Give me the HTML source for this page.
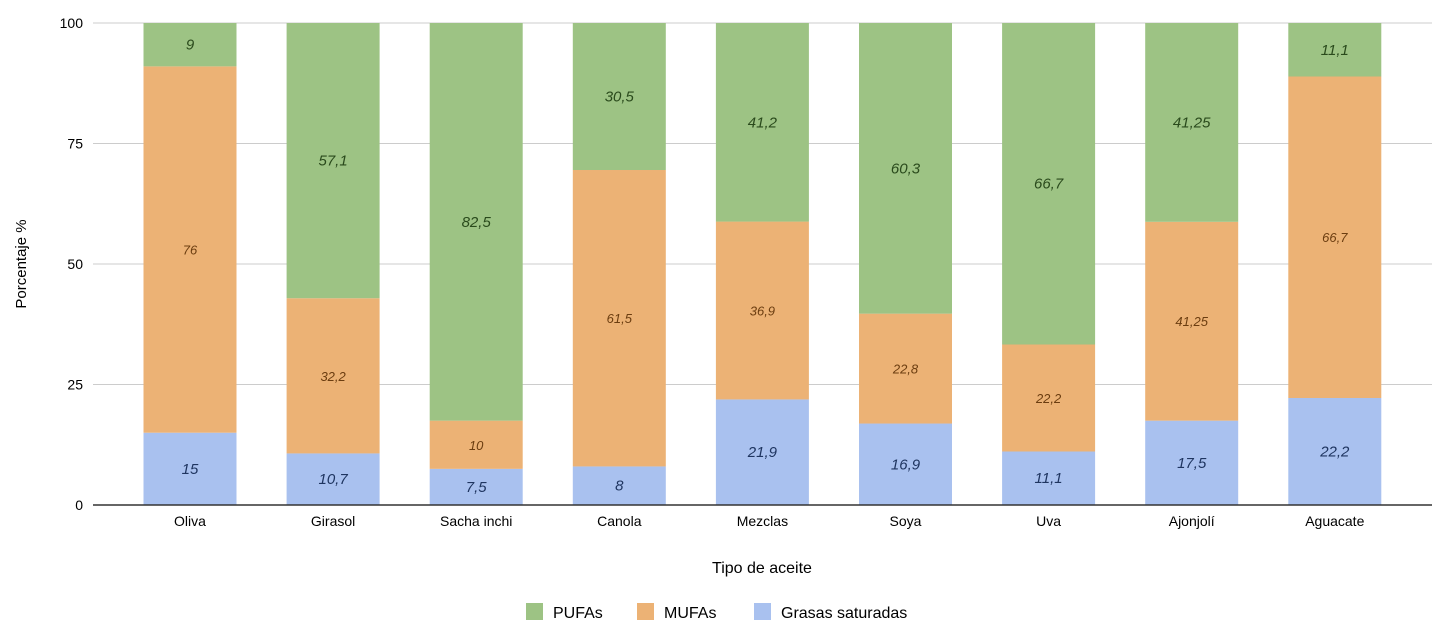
<!DOCTYPE html>
<html><head><meta charset="utf-8"><style>
body{margin:0;background:#fff;font-family:"Liberation Sans",Arial,sans-serif}
svg text{font-family:"Liberation Sans",Arial,sans-serif}
</style></head><body>
<svg id="chart" width="1442" height="632">
<g id="grid"></g><g id="bars"></g><g id="labels"></g><g id="axes"></g>
<text x="26" y="264" font-size="15" text-anchor="middle" transform="rotate(-90 26 264)">Porcentaje %</text>
<text x="762" y="573" font-size="16" text-anchor="middle">Tipo de aceite</text>
<g>
<g><rect x="526" y="603" width="17" height="17" fill="#9dc384"/><text x="553" y="618" font-size="16">PUFAs</text></g>
<g><rect x="637" y="603" width="17" height="17" fill="#ecb275"/><text x="664" y="618" font-size="16">MUFAs</text></g>
<g><rect x="754" y="603" width="17" height="17" fill="#a9c1ef"/><text x="781" y="618" font-size="16">Grasas saturadas</text></g>
</g>
</svg>
<script>
const categories=["Oliva","Girasol","Sacha inchi","Canola","Mezclas","Soya","Uva","Ajonjolí","Aguacate"];
const saturadas=[15,10.7,7.5,8,21.9,16.9,11.1,17.5,22.2];
const mufas=[76,32.2,10,61.5,36.9,22.8,22.2,41.25,66.7];
const pufas=[9,57.1,82.5,30.5,41.2,60.3,66.7,41.25,11.1];
const yTicks=[0,25,50,75,100];
const NS="http://www.w3.org/2000/svg";
const y0=505,y1=23,left=93,right=1432;
const y=v=>y0-(v/100)*(y0-y1);
const step=143.1,c0=190,bw=93;
const x=i=>c0+i*step;
function mk(tag,attrs,parent,txt){const e=document.createElementNS(NS,tag);for(const k in attrs)e.setAttribute(k,attrs[k]);if(txt!==undefined)e.textContent=txt;parent.appendChild(e);return e;}
const grid=document.getElementById('grid'),bars=document.getElementById('bars'),labels=document.getElementById('labels'),axes=document.getElementById('axes');
yTicks.forEach(t=>{
 const l=mk('line',{x1:left,x2:right,y1:y(t),y2:y(t),stroke:t===0?'#333':'#ccc','stroke-width':t===0?1.5:1},t===0?axes:grid);
 
 
 const tx=mk('text',{x:83,y:y(t)+5,'font-size':14,'text-anchor':'end'},axes,String(t));
 
 
});
const series=[
 {name:'saturadas',vals:saturadas,fill:'#a9c1ef',tc:'#1f3560',fs:15},
 {name:'mufas',vals:mufas,fill:'#ecb275',tc:'#6b3d10',fs:13},
 {name:'pufas',vals:pufas,fill:'#9dc384',tc:'#2a4a1c',fs:15}];
categories.forEach((c,i)=>{
 let base=0;
 series.forEach(s=>{
  const v=s.vals[i];
  const r=mk('rect',{x:x(i)-bw/2,y:y(base+v),width:bw,height:y(base)-y(base+v),fill:s.fill},bars);
  
  
  const t=mk('text',{x:x(i),y:(y(base)+y(base+v))/2+5,'font-size':s.fs,'font-style':'italic','text-anchor':'middle',fill:s.tc},labels,String(v).replace('.',','));
  
  
  base+=v;
 });
 const ct=mk('text',{x:x(i),y:526,'font-size':14,'text-anchor':'middle'},axes,c);
 
 
});
</script>
</body></html>
